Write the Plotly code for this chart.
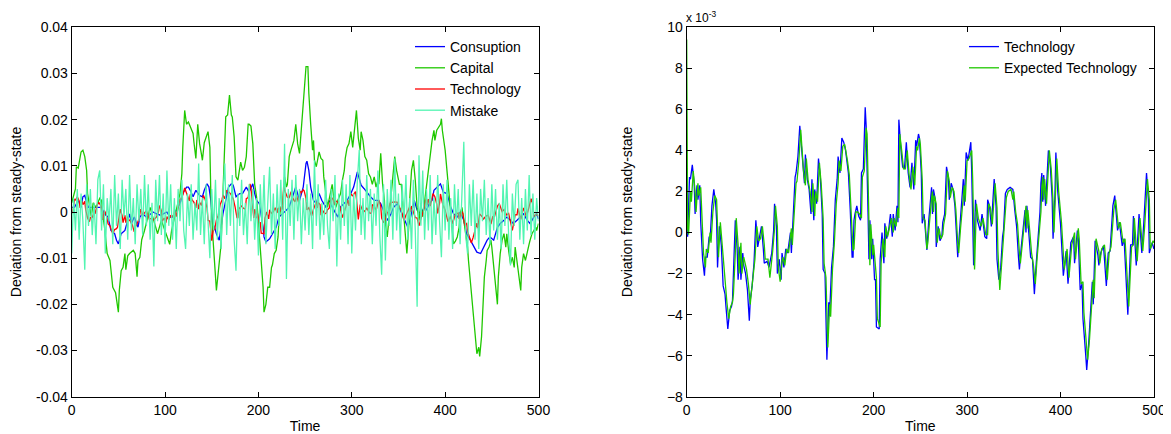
import plotly.graph_objects as go

# ---------------- data ----------------
# Technology shock, in units of 1e-3: (time, value)
technology_pts = [
    (0, 0.0), (1, -0.2), (3, 2.7), (4, 2.6), (6, 3.3), (8, 2.4), (9, 0.9), (11, 2.3), (12, 1.6), (14, 2.3),
    (15, 0.5), (17, -1.3), (19, -2.1), (20, -1.2), (22, -1.2), (24, -0.2), (25, -0.4), (27, 1.3), (29, 2.1),
    (31, 1.4), (32, 0.6), (33, -1.7), (35, 0.3), (37, -0.6), (39, -2.6), (41, -3.0), (42, -3.6), (44, -4.7),
    (46, -3.8), (48, -3.6), (49, -3.3), (51, -1.2), (52, 0.6), (54, -0.8), (55, -2.3), (57, -0.7), (58, -2.3),
    (60, -1.0), (61, -1.6), (63, -2.0), (65, -2.8), (67, -4.3), (68, -3.3), (70, -2.6), (72, -1.5), (74, 0.6),
    (76, -0.7), (78, -0.2), (80, 0.3), (82, -0.8), (83, -1.5), (86, -1.4), (88, -1.7), (91, -1.0), (93, 0.1),
    (94, 1.4), (96, 0.3), (97, -2.0), (99, -1.3), (101, -2.3), (102, -1.0), (104, -1.7), (106, -0.8),
    (108, -1.0), (110, -0.3), (111, 0.0), (112, -1.0), (114, 1.3), (116, 2.7), (117, 2.9), (119, 3.7),
    (121, 5.2), (123, 4.0), (124, 3.2), (126, 2.4), (127, 3.8), (129, 2.6), (131, 2.1), (133, 0.9), (134, 2.6),
    (136, 0.6), (137, 2.1), (139, 1.4), (141, 3.6), (143, 2.7), (145, 0.9), (146, -1.8), (148, -2.0),
    (150, -6.2), (152, -3.4), (153, -3.9), (155, -1.7), (157, -0.7), (159, 1.6), (161, 2.6), (162, 3.7),
    (164, 2.9), (166, 4.6), (168, 4.4), (170, 4.0), (171, 3.7), (173, 2.9), (175, 1.1), (177, -1.2),
    (178, -1.2), (179, 0.6), (180, 0.9), (182, 1.3), (184, 0.8), (186, 0.6), (187, 2.9), (189, 3.1),
    (191, 6.1), (192, 5.2), (194, 1.0), (195, -1.3), (196, 0.6), (198, -1.3), (199, -0.3), (201, -2.3),
    (202, -2.3), (203, -4.6), (206, -4.7), (207, -1.3), (209, 0.0), (211, -1.5), (212, 0.45), (214, -0.3),
    (216, 0.1), (218, 0.9), (220, -0.2), (221, 0.9), (223, 0.1), (225, 1.3), (226, 0.5), (227, 5.5),
    (229, 4.2), (231, 3.2), (233, 3.1), (235, 4.4), (237, 2.9), (239, 2.2), (241, 3.4), (243, 2.1),
    (245, 4.5), (246, 4.2), (248, 4.8), (249, 4.6), (251, 2.9), (252, 0.45), (254, 0.9), (256, -0.4),
    (257, -0.85), (259, 0.6), (261, 1.9), (262, 2.2), (263, 0.9), (264, 2.1), (266, 1.6), (267, -0.7),
    (269, 0.3), (271, -0.4), (273, -0.2), (274, 0.5), (276, 0.9), (278, 3.2), (280, 2.7), (281, 1.6),
    (283, 2.4), (285, 2.1), (287, 1.3), (289, -0.7), (290, -1.2), (292, 0.1), (294, 1.3), (296, 2.6),
    (297, 1.3), (299, 3.9), (301, 3.5), (304, 4.4), (305, 2.9), (307, -1.6), (309, 1.6), (311, 0.6),
    (314, 0.1), (316, 0.9), (319, -0.2), (321, -0.3), (322, 1.6), (324, 1.3), (326, 0.3), (329, 2.6),
    (331, 1.3), (332, -1.3), (334, -2.3), (336, -1.7), (338, -0.2), (339, 0.1), (341, 1.9), (343, 2.1),
    (346, 2.2), (348, 2.1), (349, 2.1), (351, 1.1), (353, 0.3), (355, -1.2), (356, -1.8), (358, -0.7),
    (360, 0.1), (362, 1.1), (363, 0.0), (364, 1.3), (366, 0.0), (368, -1.2), (370, -1.3), (372, -3.0),
    (374, -1.5), (376, -0.3), (378, 1.0), (379, 2.4), (380, 2.9), (381, 1.5), (382, 2.8), (384, 1.3),
    (386, 3.1), (387, 4.0), (389, 3.3), (391, 1.7), (392, -0.3), (394, 1.8), (395, 3.9), (397, 2.0),
    (400, 0.4), (403, -2.1), (406, -0.9), (408, -2.5), (411, -0.5), (414, -0.2), (415, -1.5), (418, 0.1),
    (419, -0.3), (421, -2.8), (423, -2.5), (424, -4.2), (427, -6.0), (428, -6.7), (430, -5.5), (432, -4.2),
    (434, -2.4), (435, -3.5), (437, -0.4), (440, -1.1), (441, -1.6), (443, -1.0), (446, -0.65), (449, -2.6),
    (451, -1.0), (453, -0.9), (456, 1.3), (458, 1.8), (461, 0.1), (463, 0.5), (466, -0.65), (468, -0.3),
    (470, -2.4), (472, -4.0), (475, -0.6), (477, -0.6), (478, 0.8), (481, -1.6), (484, 0.9), (487, -1.0),
    (489, 0.4), (492, 2.9), (494, 1.6), (495, -1.0), (498, -0.5), (500, -0.8),
]

# Expected technology, in units of 1e-3
expected_pts = [
    (0, 9.4), (1, 0.2), (2, -0.1), (4, 2.0), (5, 1.5), (7, 3.0), (9, 2.0), (10, 1.0), (12, 2.4), (13, 1.8),
    (15, 2.2), (16, 0.8), (18, -1.0), (20, -1.7), (21, -0.8), (23, -1.0), (25, 0.0), (26, -0.5), (28, 1.0),
    (30, 1.8), (32, 1.6), (33, 0.3), (34, -1.2), (36, 0.5), (38, -0.7), (40, -2.0), (42, -2.8), (43, -3.4),
    (45, -4.2), (47, -3.6), (49, -3.4), (50, -3.0), (52, -1.0), (53, 0.7), (55, -0.6), (56, -2.0), (58, -0.5),
    (59, -2.0), (61, -1.2), (62, -1.4), (64, -1.8), (66, -2.5), (68, -3.5), (69, -3.0), (71, -2.2),
    (73, -1.3), (75, 0.3), (77, -0.4), (79, -0.3), (81, 0.3), (83, -0.6), (84, -1.3), (87, -1.3), (89, -2.2),
    (92, -0.9), (94, 0.2), (95, 1.3), (97, 0.3), (98, -1.7), (100, -2.4), (102, -1.4), (103, -1.2),
    (105, -1.6), (107, -0.8), (109, -1.0), (111, -0.2), (112, 0.2), (113, -0.6), (115, 1.2), (117, 2.4),
    (118, 2.5), (120, 3.5), (122, 5.0), (124, 3.7), (125, 3.0), (127, 2.3), (128, 3.6), (130, 2.5),
    (132, 2.0), (134, 1.0), (135, 2.4), (137, 0.8), (138, 2.0), (140, 1.5), (142, 3.4), (144, 2.3),
    (146, 0.7), (147, -1.5), (149, -2.2), (151, -5.6), (153, -3.5), (154, -4.1), (156, -1.8), (158, -0.5),
    (160, 1.4), (162, 2.4), (163, 3.5), (165, 3.0), (167, 4.2), (169, 4.3), (171, 3.8), (172, 3.5),
    (174, 2.8), (176, 1.2), (178, -0.9), (179, -0.8), (180, 0.5), (181, 1.0), (183, 1.0), (185, 0.9),
    (187, 0.7), (188, 2.7), (190, 3.0), (192, 5.1), (193, 4.8), (195, 0.8), (196, -1.6), (197, 0.4),
    (199, -1.1), (200, -0.6), (202, -2.0), (203, -2.2), (204, -4.2), (207, -4.6), (208, -1.5), (210, -0.3),
    (212, -1.2), (213, 0.3), (215, -0.2), (217, 0.2), (219, 0.7), (221, 0.0), (222, 0.7), (224, 0.3),
    (226, 1.2), (227, 0.7), (228, 4.8), (230, 4.0), (232, 3.1), (234, 3.1), (236, 4.0), (238, 2.8),
    (240, 2.1), (242, 3.2), (244, 2.3), (246, 4.2), (247, 4.0), (249, 4.6), (250, 4.3), (252, 2.6),
    (253, 0.7), (255, 0.6), (257, -0.8), (258, -0.5), (260, 0.7), (262, 1.7), (263, 2.0), (264, 1.0),
    (265, 1.8), (267, 1.4), (268, -0.5), (270, 0.2), (272, -0.3), (274, -0.1), (275, 0.4), (277, 0.9),
    (279, 3.0), (281, 2.5), (282, 1.7), (284, 2.2), (286, 2.0), (288, 1.1), (290, -0.5), (291, -1.0),
    (293, 0.2), (295, 1.2), (297, 2.3), (298, 1.5), (300, 3.5), (302, 3.6), (305, 4.0), (306, 2.6),
    (308, -1.8), (310, 1.4), (312, 0.7), (315, 0.3), (317, 0.7), (320, -0.1), (322, -0.1), (323, 1.4),
    (325, 1.2), (327, 0.4), (330, 2.4), (332, 1.2), (333, -0.9), (335, -2.8), (337, -1.5), (339, -0.4),
    (340, 0.2), (342, 1.7), (344, 2.0), (347, 2.1), (349, 1.6), (350, 2.0), (352, 1.0), (354, 0.4),
    (356, -1.0), (357, -1.5), (359, -0.6), (361, 0.2), (363, 1.3), (364, 0.2), (365, 1.1), (367, 0.1),
    (369, -1.0), (371, -1.6), (373, -2.5), (375, -1.2), (377, -0.1), (379, 1.0), (380, 2.2), (381, 2.7),
    (382, 1.6), (383, 2.6), (385, 1.4), (387, 3.2), (388, 4.0), (390, 3.1), (392, 1.5), (393, 0.0),
    (395, 1.9), (396, 3.6), (398, 2.0), (401, 0.5), (404, -1.8), (407, -0.8), (409, -2.2), (412, -0.6),
    (415, 0.0), (416, -1.3), (419, 0.2), (420, -0.3), (422, -2.5), (424, -2.4), (425, -3.9), (428, -5.6),
    (429, -6.2), (431, -5.2), (433, -3.9), (435, -2.3), (436, -3.2), (438, -0.3), (441, -0.9), (442, -1.5),
    (444, -0.8), (447, -0.6), (450, -2.3), (452, -1.0), (454, -0.7), (457, 1.1), (459, 1.6), (462, 0.2),
    (464, 0.5), (467, -0.5), (469, -0.3), (471, -2.2), (473, -3.6), (476, -0.7), (478, -0.6), (479, 0.7),
    (482, -1.4), (485, 0.7), (488, -0.9), (490, 0.3), (493, 2.6), (495, 1.6), (496, -0.8), (499, -0.4),
    (500, -0.5),
]

# Capital, in units of 1e-3
capital_pts = [
    (0, 2), (4, 5), (5, 9.8), (7, 9.5), (10, 13), (12, 13.4), (14, 12), (16, 9), (17, 4), (19, 1), (21, -1),
    (23, 2), (26, 1), (30, 3), (32, 2.5), (33, -0.4), (35, -3), (38, -9), (41, -10.5), (44, -16.3),
    (47, -17.5), (50, -21.7), (51, -17), (53, -12.7), (55, -12), (57, -9), (58, -12.5), (60, -9.5), (62, -9),
    (66, -8.3), (68, -9), (70, -14), (71, -10.5), (73, -9.8), (75, -6), (78, -4), (82, -1), (84, 1),
    (86, -0.5), (90, -3.3), (92, -4.7), (96, -1.8), (100, -4), (103, -6), (105, -7), (107, -4), (110, -1),
    (112, 0.4), (116, 4), (118, 8.3), (119, 14), (121, 22), (123, 19), (125, 19.5), (126, 19), (128, 18),
    (130, 17), (131, 15), (133, 11.6), (135, 19), (137, 14.8), (139, 12.5), (140, 11.2), (142, 15),
    (144, 16.3), (146, 17.4), (148, 14), (149, 4), (151, -4.7), (153, -12), (155, -17), (156, -15),
    (158, -10.5), (160, -7), (162, 4), (164, 14.8), (165, 20.6), (167, 21), (169, 25.3), (171, 21),
    (172, 20.6), (174, 16.3), (176, 7.6), (178, 6.9), (180, 9), (181, 10.8), (183, 9), (185, 9.7), (187, 12),
    (189, 19), (190, 19), (192, 18.6), (194, 14.8), (196, 6), (198, 3.3), (199, 0.4), (201, -4.7),
    (203, -10.5), (205, -16.3), (206, -21.7), (208, -20), (210, -16.3), (212, -16.3), (214, -12),
    (215, -11.5), (217, -9), (219, -8.3), (221, -5.4), (222, -1.8), (224, 1), (226, 1.8), (228, 7.6),
    (230, 5.4), (231, 6), (233, 12), (235, 13.5), (237, 14.8), (238, 15.5), (240, 19), (242, 14.8),
    (244, 12.7), (246, 17.7), (248, 22.8), (249, 26), (251, 31.5), (253, 31.5), (254, 25.7), (256, 19),
    (258, 13.4), (259, 15.5), (260, 11.2), (262, 9.8), (265, 13), (267, 11.6), (269, 11.2), (270, 7.6),
    (272, 4), (274, 1), (277, 4), (279, 6), (281, 2.5), (283, 1), (285, 2.5), (288, 4), (290, 6.9), (292, 9),
    (293, 11.6), (295, 14), (297, 14.8), (299, 17.4), (301, 14), (302, 16), (304, 19), (305, 22), (307, 16),
    (309, 13.4), (310, 17.4), (312, 15.5), (314, 12), (316, 11.2), (318, 8.3), (320, 7.6), (322, 6),
    (324, 7.6), (326, 5.4), (328, 6.9), (329, 6), (331, 12.7), (333, 6), (335, 2.5), (336, -2.5),
    (338, -5.4), (340, -1), (342, 3.3), (345, 8.3), (346, 12), (348, 9), (351, 6), (353, 6), (355, 1),
    (357, -3.3), (359, -9), (361, -3.3), (362, 2.5), (364, 9), (366, 11.2), (368, 6.9), (370, 1),
    (372, -1.8), (374, 1.8), (376, -1), (378, 2.5), (380, 5.4), (383, 11.2), (386, 15.5), (388, 17.7),
    (389, 15.5), (391, 17.7), (393, 18.4), (395, 19), (396, 20.2), (397, 17.7), (400, 13.4), (402, 9),
    (404, 5.4), (406, 0.4), (408, -4), (409, -6.9), (411, -6.3), (413, -5.4), (415, -3.3), (416, -0.4),
    (418, 1), (420, -1.8), (422, -4.7), (424, -7.6), (425, -10.5), (427, -14.8), (429, -20), (431, -25),
    (433, -29.3), (434, -30.7), (436, -29.3), (437, -31.3), (439, -27), (440, -22), (442, -14.1),
    (444, -10.5), (445, -8.3), (447, -7.6), (449, -6.1), (450, -7.6), (452, -12), (454, -14.8), (456, -20),
    (457, -14), (459, -9), (461, -6.1), (463, -4.7), (465, -7.6), (466, -4.7), (468, -8.3), (470, -11.2),
    (472, -9.8), (474, -12), (475, -7.6), (477, -10.5), (479, -14.1), (481, -17), (482, -12), (484, -9),
    (486, -10.5), (488, -9), (490, -6.9), (491, -6.1), (493, -4.7), (495, -4), (497, -3.3), (498, -4),
    (500, -2.5),
]

# Consumption, in units of 1e-3
consumption_pts = [
    (0, 1), (3, 1), (7, 2.5), (10, 1), (12, 3.3), (14, 3.6), (16, 2), (18, 1), (21, 1), (25, 1), (28, 1),
    (32, 1), (35, -0.4), (39, -1.1), (42, -4), (46, -4.7), (48, -6.1), (50, -6.9), (53, -4.7), (57, -4),
    (60, -1.8), (62, -0.4), (64, -2.5), (67, -1.1), (71, -3.3), (73, -1.1), (76, -0.4), (80, -1.1),
    (83, -0.7), (87, 0), (91, -0.4), (95, -0.7), (98, -0.4), (102, 0), (105, -1.1), (108, -1.1), (112, 0.4),
    (116, 1.8), (119, 4), (123, 5.4), (125, 5.4), (127, 4.7), (130, 3.3), (133, 4.7), (137, 3.6),
    (140, 3.3), (142, 4.7), (145, 6.1), (147, 5.4), (149, 2.5), (151, -2.5), (153, -3.3), (155, -4.7),
    (156, -5.1), (158, -6.1), (160, -3.3), (162, -0.4), (165, 2.5), (168, 5.4), (171, 6.1), (173, 5.8),
    (176, 3.3), (180, 4), (183, 4), (187, 5.4), (190, 4.3), (194, 6.1), (196, 4), (198, 2.5), (201, 1.8),
    (203, -0.4), (205, -3.3), (206, -5.4), (208, -6.5), (212, -5.8), (215, -4.7), (219, -3.3), (222, -1.1),
    (226, -0.4), (230, 0.4), (233, 1.1), (237, 3.3), (240, 5.4), (244, 2.5), (248, 5.4), (251, 10.5),
    (252, 11), (254, 9), (256, 5.4), (259, 2.5), (262, 1.8), (265, 4), (268, 2.5), (272, 1.1), (276, 2.5),
    (279, 1.1), (283, -0.4), (285, -1.1), (288, 1.1), (292, 1.8), (295, 2.5), (299, 4), (302, 5.4),
    (306, 8.7), (310, 5.8), (313, 5.1), (317, 4), (320, 3.3), (324, 2.5), (328, 2.5), (331, 1.8),
    (335, -0.4), (338, -1.8), (342, -0.4), (345, 1.1), (349, 1.8), (352, 0.4), (356, -1.8), (360, -3.3),
    (363, -1.1), (367, 2.5), (370, 0.4), (374, -0.4), (378, 1.1), (380, 0.4), (383, 1.8), (386, 2.5),
    (388, 4.7), (391, 5.4), (395, 6.1), (398, 4.3), (402, 4), (406, 1.1), (409, -0.4), (413, -1.1), (416, 0),
    (420, -1.8), (423, -4.7), (427, -6.1), (431, -7.6), (434, -8.7), (438, -9), (441, -7.6), (445, -6.1),
    (448, -5.4), (452, -6.1), (456, -3.3), (459, -2.5), (463, -1.8), (466, -1.1), (470, -1.8), (473, -2.5),
    (477, -1.8), (481, -1.1), (484, -0.4), (488, -1.8), (491, -2.5), (495, -1.1), (498, -0.4), (500, -1.5),
]

# Mistake (noise), units of 1e-3, one value every 2 periods from t=0 to t=500
mistake_vals = [
    -9, 3, -4, 5, -6, 4, -2, -12.5, 6, -3,
    5, -5, 2, -7, 7, 9, -4, 6, -9, 3,
    -2, 5, -7, 8, -3, 4, -8, 7, -1, 5,
    -6, 8, -4, 3, -7, 6, -2, 5, -5, 8,
    -3, 6, -6, 2, -11.8, 7, -2, 8, -5, 4,
    -7, 9, -3, 6, -6, 3, -8, 5, -2, 7,
    -4, -8, 4, -3, 6, -6, 2, -4, 10.5, -5,
    3, -7, 6, -2, -10, 5, -4, 7, -6, 3,
    -8, 4, 10.5, -5, 6, -3, 8, -6, -12.7, 4,
    -3, 7, -5, 2, -7, 6, -2, 5, -6, 3,
    -9.4, 6, -4, 8, -7, 2, 9.8, -5, 4, -8,
    6, -3, 7, -6, 14.8, -14.5, 5, -3, 7, -6,
    8, -2, 5, -7, 3, -4, 6, -5, 4, -8,
    11.2, -3, 6, -6, 2, -5, 7, -3, -8, 5,
    -2, 8, -11.8, 4, -6, 7, -3, 6, -7, 8,
    -9, 4, -4, 7, 13.4, -5, 3, -6, 8, -2,
    5, -7, 4, -3, 9, -5, -13.6, 6, -10.5, 5,
    -3, 7, -6, 11.6, -4, 4, -7, 6, -2, 8,
    -6, 3, -8, 7, -4, -20.5, 12.3, -3, 9, -6,
    5, -4, 8, -7, 3, -5, 8, -2, -9.8, 6,
    -4, 7, -6, 3, -8, 6, -3, 5, -7, 4,
    15.2, -5, -9, 6, -3, 7, -6, 4, -8, 5,
    -2, 7, -5, 3, -7, 6, -4, 5, -6, 2,
    -8, 6, -3, 7, -5, -11.6, 4, -3, 6, 7,
    -6, 3, -7, 5, -4, 8, -5, 4, -6, 3,
    -2,
]
mistake_times = list(range(0, 501, 2))

left_yticks = [-0.04, -0.03, -0.02, -0.01, 0, 0.01, 0.02, 0.03, 0.04]
left_yticklabels = ["-0.04", "-0.03", "-0.02", "-0.01", "0", "0.01", "0.02", "0.03", "0.04"]
right_yticks = [-8, -6, -4, -2, 0, 2, 4, 6, 8, 10]
x_ticks = [0, 100, 200, 300, 400, 500]

SCALE = 1e-3


def split(pts, scale=1.0):
    return [p[0] for p in pts], [p[1] * scale for p in pts]


BLUE = "#0000FF"
GREEN = "#1FC800"
RED = "#FF0000"
MINT = "#52F5B2"
FONT = "Liberation Sans, Arial, sans-serif"
LW = 1.3

fig = go.Figure()

# ---- left panel ----
cx, cy = split(consumption_pts, SCALE)
fig.add_trace(go.Scatter(x=cx, y=cy, mode="lines", name="Consuption",
                         line=dict(color=BLUE, width=LW), xaxis="x", yaxis="y", legend="legend"))
kx, ky = split(capital_pts, SCALE)
fig.add_trace(go.Scatter(x=kx, y=ky, mode="lines", name="Capital",
                         line=dict(color=GREEN, width=LW), xaxis="x", yaxis="y", legend="legend"))
tx, ty = split(technology_pts, SCALE)
fig.add_trace(go.Scatter(x=tx, y=ty, mode="lines", name="Technology",
                         line=dict(color=RED, width=LW), xaxis="x", yaxis="y", legend="legend"))
n = min(len(mistake_times), len(mistake_vals))
fig.add_trace(go.Scatter(x=mistake_times[:n], y=[v * SCALE for v in mistake_vals[:n]], mode="lines",
                         name="Mistake", line=dict(color=MINT, width=LW), xaxis="x", yaxis="y",
                         legend="legend"))

# ---- right panel (axis in units of 1e-3) ----
tx2, ty2 = split(technology_pts)
fig.add_trace(go.Scatter(x=tx2, y=ty2, mode="lines", name="Technology",
                         line=dict(color=BLUE, width=LW), xaxis="x2", yaxis="y2", legend="legend2"))
ex, ey = split(expected_pts)
fig.add_trace(go.Scatter(x=ex, y=ey, mode="lines", name="Expected Technology",
                         line=dict(color=GREEN, width=LW), xaxis="x2", yaxis="y2", legend="legend2"))

# The page body has an 8px margin, so the figure starts at (8, 8) in the window.
OFF = 8
W, H = 1171 - OFF, 434 - OFF


def px_x(p):
    return (p - OFF) / W


def px_y(p):
    return 1 - (p - OFF) / H


axis_common = dict(showline=True, linecolor="black", linewidth=1, mirror="ticks", ticks="inside",
                   ticklen=5, tickcolor="black", tickwidth=1, showgrid=False, zeroline=False,
                   automargin=False,
                   tickfont=dict(family=FONT, size=14, color="black"))
title_font = dict(family=FONT, size=14, color="black")
legend_font = dict(family=FONT, size=14, color="black")

fig.update_layout(
    width=W, height=H,
    margin=dict(l=0, r=0, t=0, b=0, autoexpand=False),
    paper_bgcolor="white", plot_bgcolor="white",
    font=dict(family=FONT, size=14, color="black"),
    xaxis=dict(domain=[px_x(71.7), px_x(538.5)], range=[0, 500], tickvals=x_ticks, anchor="y",
               title=dict(text="Time", standoff=4, font=title_font), **axis_common),
    yaxis=dict(domain=[px_y(396.7), px_y(27.3)], range=[-0.04, 0.04], tickvals=left_yticks,
               ticktext=left_yticklabels, anchor="x",
               title=dict(text="Deviation from steady-state", standoff=16, font=title_font), **axis_common),
    xaxis2=dict(domain=[px_x(686.7), px_x(1154)], range=[0, 500], tickvals=x_ticks, anchor="y2",
                title=dict(text="Time", standoff=4, font=title_font), **axis_common),
    yaxis2=dict(domain=[px_y(396.7), px_y(27.3)], range=[-8, 10], tickvals=right_yticks, anchor="x2",
                title=dict(text="Deviation from steady-state", standoff=31, font=title_font), **axis_common),
    legend=dict(x=px_x(410), y=px_y(31), xanchor="left", yanchor="top", bgcolor="rgba(0,0,0,0)",
                font=legend_font, tracegroupgap=0, itemwidth=30),
    legend2=dict(x=px_x(964), y=px_y(31), xanchor="left", yanchor="top", bgcolor="rgba(0,0,0,0)",
                 font=legend_font, tracegroupgap=0, itemwidth=30),
    annotations=[dict(text="x 10<sup>-3</sup>", x=px_x(684), y=px_y(17), xref="paper", yref="paper",
                      xanchor="left", yanchor="middle", showarrow=False,
                      font=dict(family=FONT, size=12, color="black"))],
)

fig.write_html("out.html")
